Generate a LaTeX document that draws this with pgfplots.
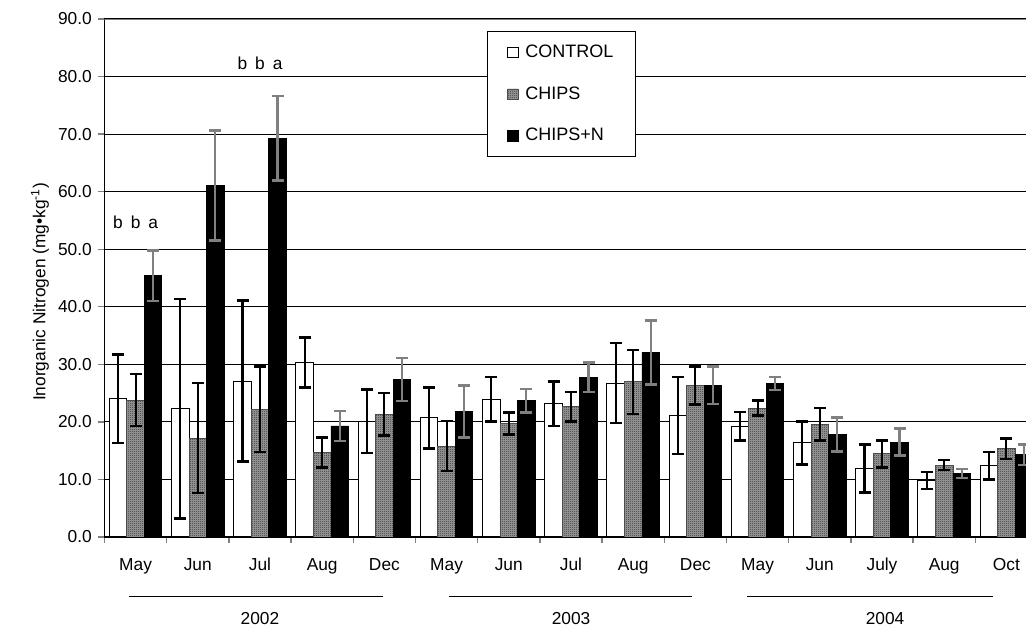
\documentclass[border=0pt]{standalone}
\usepackage{fontspec}
\setmainfont{Liberation Sans}
\usepackage{pgfplots}
\usepackage{pgfplotstable}
\usetikzlibrary{patterns}
\pgfplotsset{compat=1.18}

\definecolor{errgray}{RGB}{128,128,128}

% fine checker texture for the CHIPS bars
\pgfdeclarepatternformonly{checker}{\pgfpointorigin}{\pgfpoint{1.5pt}{1.5pt}}{\pgfpoint{1.5pt}{1.5pt}}{
  \pgfpathrectangle{\pgfpointorigin}{\pgfpoint{0.75pt}{0.75pt}}
  \pgfpathrectangle{\pgfpoint{0.75pt}{0.75pt}}{\pgfpoint{0.75pt}{0.75pt}}
  \pgfusepath{fill}
}

\pgfplotsset{
  sq legend/.style={legend image code/.code={
    \draw[##1,line width=0.6pt] (0pt,-3.9pt) rectangle (7.8pt,3.9pt);}},
  cap/.style={error bars/.cd, y dir=both, y explicit,
    error mark=|,
    error bar style={line width=1.6pt, #1},
    error mark options={#1, line width=1.8pt, mark size=4.5pt}},
}

% month, control, err, chips, err, chips+N, err
\pgfplotstableread{
x  c     ce    p     pe    n     ne
0  24.0  7.7   23.8  4.5   45.4  4.4
1  22.3  19.1  17.2  9.6   61.1  9.55
2  27.1  14.0  22.2  7.4   69.3  7.35
3  30.3  4.35  14.7  2.6   19.3  2.6
4  20.1  5.5   21.3  3.7   27.4  3.75
5  20.7  5.3   15.8  4.35  21.8  4.5
6  23.9  3.85  19.7  1.9   23.65 2.05
7  23.15 3.85  22.65 2.55  27.75 2.55
8  26.75 6.95  26.95 5.55  32.05 5.55
9  21.1  6.7   26.3  3.3   26.35 3.25
10 19.25 2.45  22.4  1.3   26.65 1.15
11 16.35 3.75  19.6  2.8   17.8  2.95
12 11.9  4.2   14.45 2.35  16.5  2.35
13 9.8   1.45  12.5  0.9   11.05 0.75
14 12.4  2.4   15.35 1.75  14.3  1.8
}\data

\begin{document}
\fontsize{13}{15.6}\selectfont
\begin{tikzpicture}
\begin{axis}[
  scale only axis,
  width=691.125pt, height=388.5pt,
  xmin=-0.5, xmax=14.315,
  ymin=0, ymax=90,
  ybar=0pt, bar width=13.125pt,
  axis x line*=bottom, axis y line*=left,
  axis line style={-, line width=1pt},
  tick align=outside,
  xtick={0,...,14},
  xticklabels={May,Jun,Jul,Aug,Dec,May,Jun,Jul,Aug,Dec,May,Jun,July,Aug,Oct},
  major x tick style={draw=none},
  minor xtick={-0.5,0.5,...,14.5},
  minor tick length=4.5pt,
  minor x tick style={line width=1pt},
  ytick={0,10,...,90},
  major tick length=5pt,
  major y tick style={line width=1pt},
  ymajorgrids,
  grid style={black, line width=0.9pt},
  yticklabel style={/pgf/number format/.cd, fixed, fixed zerofill, precision=1, assume math mode=true},
  xticklabel style={yshift=-6.5pt},
  ylabel={Inorganic Nitrogen (mg•kg\textsuperscript{-1})},
  ylabel style={at={(axis description cs:-0.07,0.473)}, anchor=center},
  legend style={at={(0.415,0.977)}, anchor=north west, draw=black, line width=0.75pt,
    inner xsep=15pt, inner ysep=8pt, row sep=16pt, column sep=3pt,
    font=\fontsize{13.5}{16}\selectfont},
  legend cell align=left,
]
\addplot[fill=white, draw=black, line width=0.75pt, sq legend, cap=black]
  table[x=x, y=c, y error=ce]{\data};
\addplot[fill=black!38, draw=black!70, line width=0.6pt, sq legend,
  postaction={pattern=checker, pattern color=black!82}, cap=black]
  table[x=x, y=p, y error=pe]{\data};
\addplot[fill=black, draw=black, line width=0.6pt, sq legend, cap=errgray]
  table[x=x, y=n, y error=ne]{\data};
\legend{CONTROL, CHIPS, CHIPS+N}
\draw[errgray, line width=1.5pt] (axis cs:-0.5,90) -- (axis cs:14.315,90);
\node at (axis cs:0,54.7) {b\hspace{6pt}b\hspace{6pt}a};
\node at (axis cs:2,82.3) {b\hspace{6pt}b\hspace{6pt}a};
\end{axis}
% year brackets under the months
\draw[line width=0.75pt] (18.4pt,-45pt) -- (208.9pt,-45pt);
\draw[line width=0.75pt] (258.4pt,-45pt) -- (440.6pt,-45pt);
\draw[line width=0.75pt] (481.9pt,-45pt) -- (666.4pt,-45pt);
\node at (116.6pt,-61pt) {2002};
\node at (349.9pt,-61pt) {2003};
\node at (585.4pt,-61pt) {2004};
\pgfresetboundingbox
\useasboundingbox (-78.375pt,-68.25pt) rectangle (691.125pt,402.75pt);
\end{tikzpicture}
\end{document}
